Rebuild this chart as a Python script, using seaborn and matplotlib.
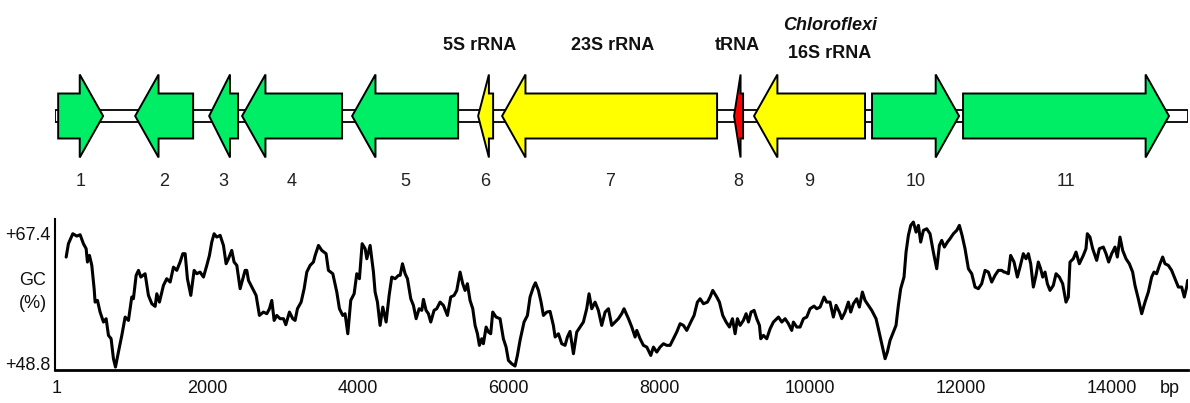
import matplotlib
matplotlib.use("Agg")
import matplotlib.pyplot as plt
import matplotlib.transforms as mtransforms
from matplotlib import font_manager
from matplotlib.patches import Polygon, Rectangle
import pandas as pd
import seaborn as sns

# ---- gene map of the contig (coordinates in bp) ----
gene_ids = ["1", "2", "3", "4", "5", "6", "7", "8", "9", "10", "11"]
gene_start = [27, 1048, 2029, 2466, 3925, 5596, 5914, 8990, 9255, 10820, 12027]
gene_end = [623, 1817, 2413, 3792, 5331, 5795, 8765, 9110, 10727, 11974, 14758]
gene_strand = [1, -1, -1, -1, -1, -1, -1, -1, -1, 1, 1]
gene_type = ["CDS", "CDS", "CDS", "CDS", "CDS", "rRNA", "rRNA", "tRNA", "rRNA", "CDS", "CDS"]
seq_length = 15005

# feature names written above the RNA genes
feature_names = ["5S rRNA", "23S rRNA", "tRNA", "16S rRNA"]
feature_x = [5622, 7386, 9030, 10263]
taxon_name = "Chloroflexi"

# ---- GC content profile ----
gc_position = [
    133, 163, 221, 274, 318, 362, 398, 415, 442, 473, 504, 517, 548, 583, 628, 663,
    694, 729, 760, 787, 826, 871, 915, 959, 1003, 1025, 1061, 1092, 1123, 1180, 1224,
    1269, 1313, 1335, 1370, 1423, 1467, 1512, 1556, 1600, 1644, 1680, 1711, 1741, 1786,
    1830, 1865, 1909, 1954, 1998, 2033, 2064, 2095, 2130, 2175, 2219, 2254, 2285, 2329,
    2360, 2396, 2440, 2506,
    2528, 2551, 2595, 2652, 2696, 2749, 2794, 2829, 2860, 2891, 2926, 2970, 3015, 3046,
    3094, 3138, 3169, 3200, 3249, 3289, 3324, 3368, 3412, 3435, 3479, 3523, 3580, 3611,
    3669, 3722, 3757, 3801, 3832, 3868, 3907, 3952, 3987, 4022, 4058, 4098, 4120, 4164,
    4208, 4230, 4261, 4296, 4332, 4376, 4416, 4451, 4495, 4540, 4562, 4593, 4628, 4659,
    4703, 4738, 4774, 4814, 4849, 4871, 4906, 4937, 4968, 5012,
    5047, 5092, 5136, 5189, 5233, 5277, 5313, 5357, 5392, 5423, 5454, 5489, 5525, 5556,
    5587, 5613, 5644, 5666, 5702, 5733, 5763, 5790, 5834, 5887, 5931, 5967, 5998, 6042,
    6086, 6117, 6152, 6205, 6250, 6285, 6329, 6356, 6396, 6431, 6462, 6506, 6550, 6594,
    6617, 6661, 6705, 6749, 6780, 6815, 6860, 6904, 6948, 6992, 7036, 7067, 7103, 7147,
    7191, 7235, 7280, 7324, 7368, 7412, 7456, 7500, 7531,
    7590, 7634, 7678, 7700, 7744, 7788, 7833, 7886, 7921, 7965, 8009, 8054, 8098, 8142,
    8186, 8230, 8275, 8319, 8363, 8416, 8460, 8504, 8540, 8584, 8637, 8672, 8708, 8761,
    8796, 8840, 8885, 8929, 8969, 9004, 9035, 9070, 9114, 9150, 9181, 9216, 9256, 9291,
    9327, 9344, 9380, 9424, 9468, 9512, 9579, 9623, 9667, 9711, 9755, 9777, 9822, 9866,
    9910, 9954, 9998, 10051,
    10086, 10131, 10184, 10219, 10263, 10307, 10343, 10387, 10418, 10462, 10506, 10537,
    10573, 10617, 10652, 10692, 10727, 10772, 10816, 10873, 10904, 10948, 10993, 11023,
    11059, 11103, 11138, 11169, 11200, 11244, 11271, 11302, 11333, 11368, 11404, 11435,
    11465, 11501, 11545, 11589, 11633, 11678, 11713, 11744, 11779, 11819, 11854, 11899,
    11943, 11978, 12014, 12053, 12098, 12142, 12186, 12230, 12274, 12319, 12363, 12407,
    12451, 12495, 12540, 12570,
    12583, 12628, 12658, 12703, 12747, 12782, 12826, 12862, 12893, 12924, 12959, 12994,
    13025, 13056, 13083, 13114, 13145, 13180, 13224, 13260, 13304, 13348, 13392, 13423,
    13445, 13489, 13525, 13569, 13622, 13657, 13675, 13710, 13746, 13799, 13834, 13887,
    13923, 13958, 13998, 14042, 14073, 14108, 14144, 14188, 14232, 14276, 14307, 14351,
    14396, 14440, 14484, 14528, 14559, 14594, 14639, 14674, 14705, 14749, 14793, 14838,
    14882, 14926, 14961, 14992, 15005,
]
gc_percent = [
    62.91, 64.62, 65.90, 65.60, 65.77, 64.62, 63.98, 62.27, 63.12, 61.84, 58.85, 57.13,
    57.35, 55.85, 54.57, 55.00, 52.86, 52.43, 49.87, 48.80, 50.72, 52.86, 55.21, 54.78,
    57.78, 57.56, 60.56, 61.20, 60.34, 60.77, 57.99, 56.92, 56.58, 58.20, 57.13, 59.27,
    60.13, 59.70, 61.62, 61.20, 62.27, 63.34, 63.34, 60.13, 57.99, 61.20, 60.77, 60.98,
    60.34, 61.84, 63.12, 64.83, 65.90, 65.47, 65.69, 64.40, 62.05, 62.69, 63.76, 62.27,
    61.84, 58.85, 61.20,
    61.20, 59.91, 59.06, 57.99, 55.42, 55.85, 55.64, 56.28, 57.35, 54.78, 55.42, 55.00,
    55.00, 54.23, 55.85, 55.00, 54.78, 56.28, 57.13, 58.85, 60.98, 61.84, 62.27, 63.12,
    64.40, 63.76, 63.34, 61.20, 60.77, 58.42, 56.28, 55.42, 55.64, 53.07, 57.35, 58.20,
    60.77, 60.13, 64.62, 63.98, 62.69, 64.40, 60.98, 58.42, 57.13, 54.14, 56.49, 54.57,
    57.99, 60.34, 60.13, 60.56, 60.56, 62.05, 60.77, 60.13, 57.56, 56.71, 55.00, 56.28,
    56.07, 57.48, 56.07, 55.64, 54.57, 56.07,
    56.28, 57.13, 56.71, 55.42, 57.78, 57.99, 58.63, 60.98, 59.49, 58.63, 59.49, 57.35,
    56.28, 54.14, 53.07, 51.58, 52.43, 51.79, 53.93, 53.29, 53.07, 55.85, 55.21, 55.00,
    52.43, 51.36, 49.65, 49.22, 48.93, 50.29, 52.22, 54.57, 55.42, 57.78, 59.06, 59.61,
    58.63, 57.13, 55.42, 55.85, 55.94, 54.14, 52.65, 53.07, 51.79, 51.58, 52.65, 53.37,
    50.51, 53.29, 53.93, 54.57, 56.28, 58.20, 56.28, 57.13, 56.07, 54.14, 55.85, 56.28,
    54.14, 54.57, 55.00, 55.64, 56.28,
    55.00, 53.93, 52.65, 53.50, 52.43, 51.58, 51.36, 50.29, 51.36, 50.72, 51.36, 51.79,
    51.58, 51.58, 52.43, 53.29, 54.36, 54.14, 53.50, 54.57, 55.42, 57.13, 57.56, 56.92,
    57.13, 57.78, 58.63, 57.78, 57.13, 55.42, 54.57, 53.93, 55.00, 53.07, 55.00, 54.14,
    54.78, 55.64, 54.57, 55.85, 56.07, 55.00, 54.14, 52.43, 52.86, 52.43, 53.71, 54.57,
    55.21, 54.57, 55.00, 54.36, 53.50, 54.57, 53.93, 53.93, 55.00, 55.21, 56.28, 56.62,
    56.28, 56.49, 57.78, 57.13, 57.13, 55.21, 56.71, 55.85, 55.00, 55.85, 57.13, 55.85,
    56.92, 57.56, 56.49, 58.42, 57.35, 56.71, 56.07, 55.00, 53.71, 51.79, 49.87, 50.72,
    52.22, 53.29, 54.14, 56.71, 58.85, 60.34, 63.55, 65.69, 66.97, 67.40, 66.11, 66.97,
    64.83, 66.33, 66.54, 65.90, 63.55, 61.41, 64.40, 65.05, 64.19, 64.83, 65.26, 65.90,
    66.33, 66.97, 65.69, 63.98, 61.41, 60.77, 59.06, 58.85, 59.49, 61.20, 60.98, 59.70,
    60.56, 61.20, 61.20, 60.98,
    60.98, 60.77, 63.12, 62.27, 60.34, 61.62, 63.34, 62.69, 63.34, 62.05, 59.06, 60.56,
    62.27, 61.41, 60.34, 60.98, 59.49, 58.63, 59.27, 60.77, 60.34, 59.49, 57.13, 57.78,
    62.27, 62.69, 63.55, 62.05, 63.12, 63.98, 65.90, 65.47, 63.98, 62.48, 63.98, 64.19,
    63.34, 62.27, 63.34, 64.19, 62.91, 65.47, 63.76, 62.69, 62.05, 60.98, 59.27, 57.56,
    55.64, 57.13, 58.42, 60.34, 60.98, 60.77, 62.05, 62.91, 62.05, 61.84, 61.20, 60.13,
    59.06, 59.06, 57.78, 59.06, 59.91,
]
gc_ticks = [67.4, 48.8]
bp_ticks = [1, 2000, 4000, 6000, 8000, 10000, 12000, 14000]
bp_tick_labels = ["1", "2000", "4000", "6000", "8000", "10000", "12000", "14000"]

# ---- styling ----
sns.set_theme(style="white")
available = {f.name for f in font_manager.fontManager.ttflist}
if "Liberation Sans Narrow" in available:
    base_font, fs = "Liberation Sans Narrow", 14
else:
    base_font, fs = "Liberation Sans", 13
plt.rcParams["font.family"] = [base_font, "DejaVu Sans"]

type_colors = {"CDS": "#00EE66", "rRNA": "#FFFF00", "tRNA": "#FF0000"}
W, H = 1190, 403
fig = plt.figure(figsize=(W / 100, H / 100), dpi=100)
fig.patch.set_facecolor("white")

# ---- gene track ----
ax_map = fig.add_axes([55 / W, 203 / H, 1133 / W, 200 / H])
ax_map.set_xlim(-15, 15010)
ax_map.set_ylim(-84, 116)
ax_map.axis("off")

body_half, head_half, line_half = 22.5, 41.5, 6.0
ax_map.add_patch(Rectangle((-10, -line_half), seq_length + 10, 2 * line_half,
                           facecolor="white", edgecolor="black", lw=1.3, zorder=1))

for gid, s, e, strand, gtype in zip(gene_ids, gene_start, gene_end, gene_strand, gene_type):
    length = e - s
    head = min(310, 0.72 * length)
    if strand > 0:
        hb = e - head
        pts = [(s, -body_half), (s, body_half), (hb, body_half), (hb, head_half),
               (e, 0), (hb, -head_half), (hb, -body_half)]
    else:
        hb = s + head
        pts = [(e, -body_half), (e, body_half), (hb, body_half), (hb, head_half),
               (s, 0), (hb, -head_half), (hb, -body_half)]
    ax_map.add_patch(Polygon(pts, closed=True, facecolor=type_colors[gtype],
                             edgecolor="black", lw=1.4, joinstyle="miter", zorder=2))
    ax_map.text((s + e) / 2, -66, gid, ha="center", va="center",
                fontsize=fs, color="#222222")

for name, x in zip(feature_names, feature_x):
    y = 63 if name.startswith("16S") else 70
    ax_map.text(x, y, name, ha="center", va="center", fontsize=fs,
                fontweight="bold", color="#111111")
ax_map.text(feature_x[-1], 91, taxon_name, ha="center", va="center", fontsize=fs,
            fontweight="bold", fontstyle="italic", color="#111111")

# ---- GC content plot ----
ax_gc = fig.add_axes([55 / W, 33 / H, 1133 / W, 151 / H])
gc_df = pd.DataFrame({"position": gc_position, "gc": gc_percent})
sns.lineplot(data=gc_df, x="position", y="gc", ax=ax_gc, color="black",
             lw=2.2, sort=False, estimator=None)
ax_gc.set_xlim(-15, 15010)
ax_gc.set_ylim(48.42, 67.79)

for side in ("top", "right"):
    ax_gc.spines[side].set_visible(False)
ax_gc.spines["left"].set_linewidth(1.5)
ax_gc.spines["bottom"].set_linewidth(2.0)
ax_gc.spines["left"].set_color("black")
ax_gc.spines["bottom"].set_color("black")

ax_gc.set_xticks(bp_ticks + [14772])
ax_gc.set_xticklabels(bp_tick_labels + ["bp"])
ax_gc.set_yticks(gc_ticks)
ax_gc.set_yticklabels([f"+{v}" for v in gc_ticks])
ax_gc.tick_params(axis="x", length=0, pad=7, labelsize=fs, labelcolor="#111111")
ax_gc.tick_params(axis="y", length=0, pad=3, labelsize=fs, labelcolor="#111111")

# nudge the range labels a little inside the plotted band
shifts = [-7.9, 2.9]
for lbl, dy in zip(ax_gc.get_yticklabels(), shifts):
    lbl.set_transform(lbl.get_transform() +
                      mtransforms.ScaledTranslation(0, dy / 72, fig.dpi_scale_trans))

ax_gc.set_xlabel("")
ax_gc.set_ylabel("GC\n(%)", rotation=0, fontsize=fs, color="#111111",
                 ha="center", va="center", linespacing=1.45)
ax_gc.yaxis.set_label_coords(-22 / 1133, 0.5166)

fig.savefig("out.png", dpi=100, facecolor="white")
